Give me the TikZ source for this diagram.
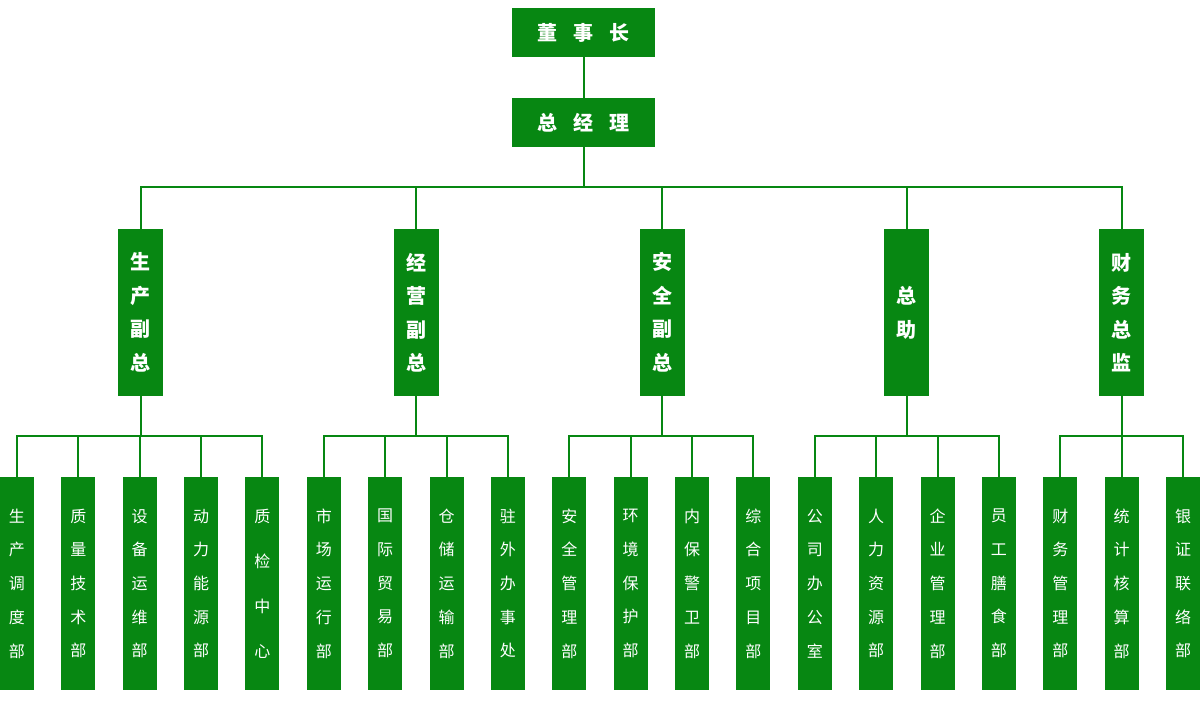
\documentclass[tikz,border=0pt]{standalone}
\usepackage{fontspec}
\newfontfamily\cjk{Noto Sans CJK SC}
\definecolor{og}{RGB}{7,135,18}
\begin{document}
\begin{tikzpicture}[x=1pt,y=-1pt,
  box/.style={fill=og,text=white,inner sep=0pt,align=center},
  topbox/.style={box,minimum width=143pt,minimum height=49pt,font=\cjk\bfseries\fontsize{20}{24}\selectfont},
  midbox/.style={box,minimum width=45pt,minimum height=167pt,font=\cjk\bfseries\fontsize{20}{33.5}\selectfont},
  leafbox/.style={box,minimum width=34pt,minimum height=213pt,font=\cjk\fontsize{16}{33.7}\selectfont},
  wideleaf/.style={leafbox,font=\cjk\fontsize{16}{45}\selectfont},
  conn/.style={draw=og,line width=2pt}]
\useasboundingbox (0,0) rectangle (1200,710);
% top
\node[topbox] (ceo) at (583.5,32.5) {董\hspace{16pt}事\hspace{16pt}长};
\node[topbox] (gm) at (583.5,122.5) {总\hspace{16pt}经\hspace{16pt}理};
% level 2
\node[midbox] (sc) at (140.5,312.5) {生\\产\\副\\总};
\node[midbox] (jy) at (416,312.5) {经\\营\\副\\总};
\node[midbox] (aq) at (662,312.5) {安\\全\\副\\总};
\node[midbox,font=\cjk\bfseries\fontsize{20}{34}\selectfont] (zz) at (906.5,312.5) {总\\助};
\node[midbox] (cw) at (1121.5,312.5) {财\\务\\总\\监};
% leaves
\def\lx#1{17+#1*61.368}
\node[leafbox] (a0) at ({\lx{0}},583.5) {生\\产\\调\\度\\部};
\node[leafbox] (a1) at ({\lx{1}},583.5) {质\\量\\技\\术\\部};
\node[leafbox] (a2) at ({\lx{2}},583.5) {设\\备\\运\\维\\部};
\node[leafbox] (a3) at ({\lx{3}},583.5) {动\\力\\能\\源\\部};
\node[wideleaf] (a4) at ({\lx{4}},583.5) {质\\检\\中\\心};
\node[leafbox] (b0) at ({\lx{5}},583.5) {市\\场\\运\\行\\部};
\node[leafbox] (b1) at ({\lx{6}},583.5) {国\\际\\贸\\易\\部};
\node[leafbox] (b2) at ({\lx{7}},583.5) {仓\\储\\运\\输\\部};
\node[leafbox] (b3) at ({\lx{8}},583.5) {驻\\外\\办\\事\\处};
\node[leafbox] (c0) at ({\lx{9}},583.5) {安\\全\\管\\理\\部};
\node[leafbox] (c1) at ({\lx{10}},583.5) {环\\境\\保\\护\\部};
\node[leafbox] (c2) at ({\lx{11}},583.5) {内\\保\\警\\卫\\部};
\node[leafbox] (c3) at ({\lx{12}},583.5) {综\\合\\项\\目\\部};
\node[leafbox] (d0) at ({\lx{13}},583.5) {公\\司\\办\\公\\室};
\node[leafbox] (d1) at ({\lx{14}},583.5) {人\\力\\资\\源\\部};
\node[leafbox] (d2) at ({\lx{15}},583.5) {企\\业\\管\\理\\部};
\node[leafbox] (d3) at ({\lx{16}},583.5) {员\\工\\膳\\食\\部};
\node[leafbox] (e0) at ({\lx{17}},583.5) {财\\务\\管\\理\\部};
\node[leafbox] (e1) at ({\lx{18}},583.5) {统\\计\\核\\算\\部};
\node[leafbox] (e2) at ({\lx{19}},583.5) {银\\证\\联\\络\\部};
% connectors
\draw[conn] (ceo) -- (gm);
\foreach \c in {sc,jy,aq,zz,cw} \draw[conn] (gm.south) -- ++(0,40) -| (\c.north);
\foreach \c in {a0,a1,a2,a3,a4} \draw[conn] (sc.south) -- ++(0,40) -| (\c.north);
\foreach \c in {b0,b1,b2,b3} \draw[conn] (jy.south) -- ++(0,40) -| (\c.north);
\foreach \c in {c0,c1,c2,c3} \draw[conn] (aq.south) -- ++(0,40) -| (\c.north);
\foreach \c in {d0,d1,d2,d3} \draw[conn] (zz.south) -- ++(0,40) -| (\c.north);
\foreach \c in {e0,e1,e2} \draw[conn] (cw.south) -- ++(0,40) -| (\c.north);
\end{tikzpicture}
\end{document}
